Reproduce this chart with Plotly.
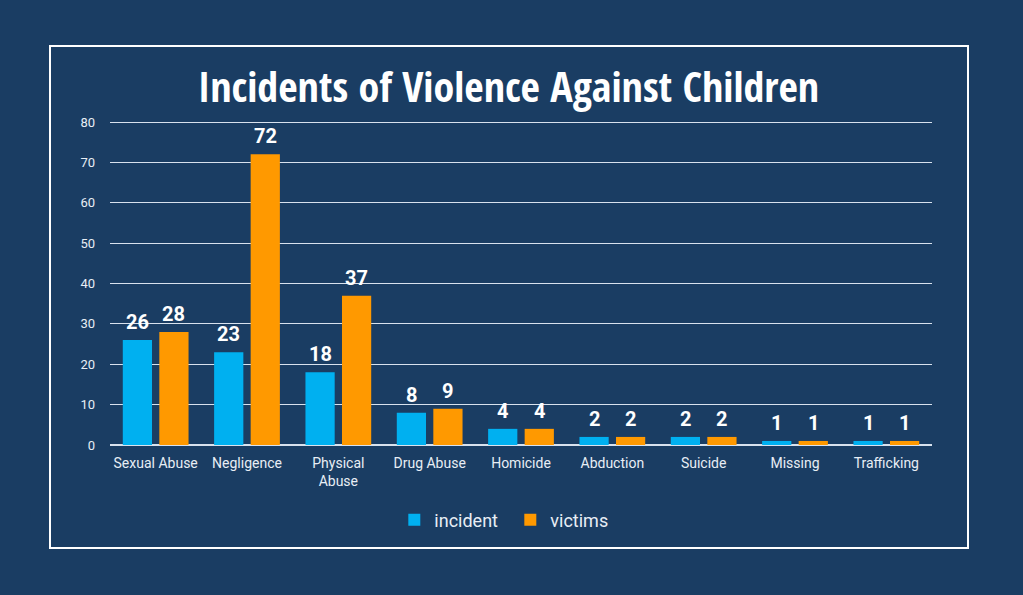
import plotly.graph_objects as go

categories = ["Sexual Abuse", "Negligence", "Physical<br>Abuse", "Drug Abuse", "Homicide",
              "Abduction", "Suicide", "Missing", "Trafficking"]
incident = [26, 23, 18, 8, 4, 2, 2, 1, 1]
victims = [28, 72, 37, 9, 4, 2, 2, 1, 1]
y_ticks = [0, 10, 20, 30, 40, 50, 60, 70, 80]

BG = "#1a3d63"
W, H = 1023, 595
ML, MR, MT, MB = 110, 91, 118, 150
BARGAP, GROUPGAP = 0.2, 0.2
label_font = dict(family="Roboto", size=20, color="white", weight="bold")

fig = go.Figure()
fig.add_trace(go.Bar(x=categories, y=incident, name="incident",
                     marker=dict(color="#00b0f0", line=dict(width=0))))
fig.add_trace(go.Bar(x=categories, y=victims, name="victims",
                     marker=dict(color="#ff9900", line=dict(width=0))))

# value labels above each bar (offset half a bar slot left/right)
cat_w = (W - ML - MR) / len(categories)
slot = cat_w * (1 - BARGAP) / 2
for series, sign in ((incident, -1), (victims, 1)):
    for c, v in zip(categories, series):
        fig.add_annotation(x=c, y=v, text=str(v), showarrow=False, xanchor="center",
                           yanchor="bottom", xshift=sign * slot / 2, yshift=4,
                           font=label_font)

fig.update_layout(
    width=W, height=H,
    paper_bgcolor=BG, plot_bgcolor=BG,
    margin=dict(l=ML, r=MR, t=MT, b=MB),
    barmode="group", bargap=BARGAP, bargroupgap=GROUPGAP,
    font=dict(family="Roboto", color="#e8eef5", size=14),
    title=dict(text="Incidents of Violence Against Children", x=0.497, xanchor="center",
               y=1 - 87 / H, yanchor="middle",
               font=dict(family="Open Sans Condensed, Roboto Condensed", size=42,
                         color="white", weight="bold")),
    xaxis=dict(showgrid=False, showline=False, ticks="", ticklabelstandoff=8,
               tickfont=dict(size=14, color="#e8eef5")),
    yaxis=dict(range=[0, 81], tickvals=y_ticks, showgrid=True, gridcolor="#d8e2ee", gridwidth=1,
               zeroline=True, zerolinecolor="#d8e2ee", tickfont=dict(size=13, color="#e8eef5"),
               ticks="", ticklabelstandoff=14),
    legend=dict(orientation="h", x=0.487, xanchor="center", y=1 - 520 / H, yanchor="middle",
                yref="container", font=dict(size=18, color="#e8eef5"), itemwidth=30,
                entrywidth=71, entrywidthmode="pixels",
                tracegroupgap=0, bgcolor="rgba(0,0,0,0)"),
    shapes=[dict(type="rect", xref="paper", yref="paper",
                 x0=(50 - ML) / (W - ML - MR), x1=(968 - ML) / (W - ML - MR),
                 y0=(H - MB - 548) / (H - MB - MT), y1=(H - MB - 46) / (H - MB - MT),
                 line=dict(color="white", width=2), fillcolor="rgba(0,0,0,0)", layer="below")],
)

fig.write_html("out.html", config={"displayModeBar": False},
               post_script="document.body.style.margin='0';")
